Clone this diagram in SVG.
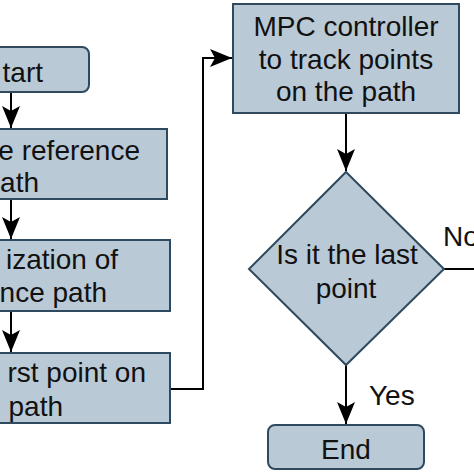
<svg xmlns="http://www.w3.org/2000/svg" width="474" height="474" viewBox="0 0 474 474">
<defs>
<style>
.box{fill:#bac9d6;stroke:#2f4a5e;stroke-width:2}
.t{font-family:"Liberation Sans",Arial,sans-serif;font-size:28px;fill:#111}
.e{text-anchor:end}
.m{text-anchor:middle}
.c{fill:none;stroke:#000;stroke-width:2}
</style>
<marker id="ah" markerUnits="userSpaceOnUse" markerWidth="22" markerHeight="18" refX="22" refY="9" orient="auto">
<path d="M0,0 L22,9 L0,18 L5,9 Z" fill="#000"/>
</marker>
</defs>
<rect width="474" height="474" fill="#fff"/>
<g id="connectors">
<line class="c" x1="11" y1="92" x2="11" y2="128" marker-end="url(#ah)"/>
<line class="c" x1="11" y1="199" x2="11" y2="239" marker-end="url(#ah)"/>
<line class="c" x1="11" y1="311" x2="11" y2="352" marker-end="url(#ah)"/>
<polyline class="c" points="170,389 203,389 203,58 232,58" marker-end="url(#ah)"/>
<line class="c" x1="346" y1="113" x2="346" y2="171" marker-end="url(#ah)"/>
<line class="c" x1="346" y1="365" x2="346" y2="424" marker-end="url(#ah)"/>
<line class="c" x1="444" y1="269" x2="476" y2="269"/>
<text class="t" x="443" y="246">No</text>
<text class="t" x="369" y="405">Yes</text>
</g>
<g id="start">
<rect class="box" x="-67" y="47" width="156" height="45" rx="7"/>
<text class="t e" x="43" y="82">tart</text>
</g>
<g id="define">
<rect class="box" x="-150" y="129" width="317" height="70"/>
<text class="t e" x="140" y="160">e reference</text>
<text class="t e" x="39" y="192">ath</text>
</g>
<g id="discretize">
<rect class="box" x="-150" y="240" width="320" height="71"/>
<text class="t e" x="118" y="269">ization of</text>
<text class="t e" x="107" y="302">nce path</text>
</g>
<g id="first">
<rect class="box" x="-150" y="353" width="320" height="70"/>
<text class="t e" x="146" y="382">rst point on</text>
<text class="t e" x="63" y="416">path</text>
</g>
<g id="mpc">
<rect class="box" x="233" y="4" width="226" height="109"/>
<text class="t m" x="346" y="36">MPC controller</text>
<text class="t m" x="346" y="69">to track points</text>
<text class="t m" x="346" y="101">on the path</text>
</g>
<g id="decision">
<polygon class="box" points="346,172 444,269 346,365 249,269"/>
<text class="t m" x="347" y="264">Is it the last</text>
<text class="t m" x="346" y="298">point</text>
</g>
<g id="end">
<rect class="box" x="268" y="425" width="156" height="44" rx="7"/>
<text class="t m" x="346" y="459">End</text>
</g>
</svg>
